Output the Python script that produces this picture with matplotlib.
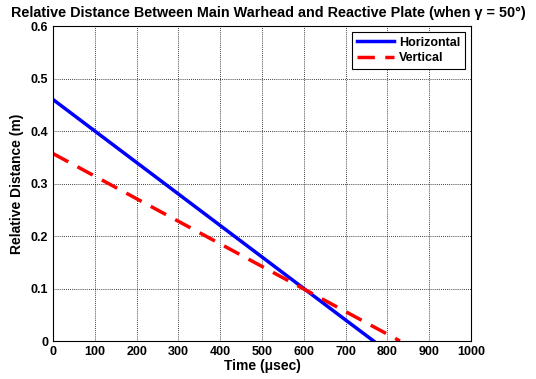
import matplotlib
matplotlib.use("Agg")
import matplotlib.pyplot as plt

plt.rcParams['font.family'] = ['Liberation Sans', 'DejaVu Sans']
plt.rcParams['font.weight'] = 'bold'

time_h = [0, 100, 200, 300, 400, 500, 600, 700, 767]
dist_h = [0.46, 0.40, 0.34, 0.28, 0.22, 0.16, 0.10, 0.04, 0.0]
time_v = [0, 100, 200, 300, 400, 500, 600, 700, 800, 830]
dist_v = [0.357, 0.314, 0.271, 0.228, 0.185, 0.142, 0.099, 0.056, 0.013, 0.0]

xticks = list(range(0, 1001, 100))
yticks = [0, 0.1, 0.2, 0.3, 0.4, 0.5, 0.6]

fig = plt.figure(figsize=(5.36, 3.79), dpi=100)
ax = fig.add_axes([53/536, 1-341/379, (471-53)/536, (341-26)/379])

ax.plot(time_h, dist_h, color='#0000ff', lw=2.5, label='Horizontal')
ax.plot(time_v, dist_v, color='#ff0000', lw=2.5, dashes=(5, 3), label='Vertical')

ax.set_xlim(0, 1000)
ax.set_ylim(0, 0.6)
ax.set_xticks(xticks)
ax.set_yticks(yticks)
ax.set_xticklabels([str(t) for t in xticks], fontsize=9, fontweight='bold')
ax.set_yticklabels(['0', '0.1', '0.2', '0.3', '0.4', '0.5', '0.6'], fontsize=9, fontweight='bold')
ax.tick_params(direction='in', length=0, pad=3.5)
ax.grid(True, color='black', linestyle=(0, (1, 1.5)), linewidth=0.6)
for s in ax.spines.values():
    s.set_linewidth(0.8)

ax.set_xlabel('Time (\u03bcsec)', fontsize=10, fontweight='bold', labelpad=1)
ax.set_ylabel('Relative Distance (m)', fontsize=10, fontweight='bold', labelpad=5)
fig.text(268/536, 1-17/379,
         'Relative Distance Between Main Warhead and Reactive Plate (when \u03b3 = 50\u00b0)',
         fontsize=10.4, fontweight='bold', ha='center', va='baseline')

leg = ax.legend(loc='upper right', fontsize=9, fancybox=False, framealpha=1,
                edgecolor='black', borderaxespad=0.45, handlelength=3.0,
                borderpad=0.4, labelspacing=0.3, handletextpad=0.4)
leg.get_frame().set_linewidth(0.8)

fig.savefig('out.png', dpi=100)
